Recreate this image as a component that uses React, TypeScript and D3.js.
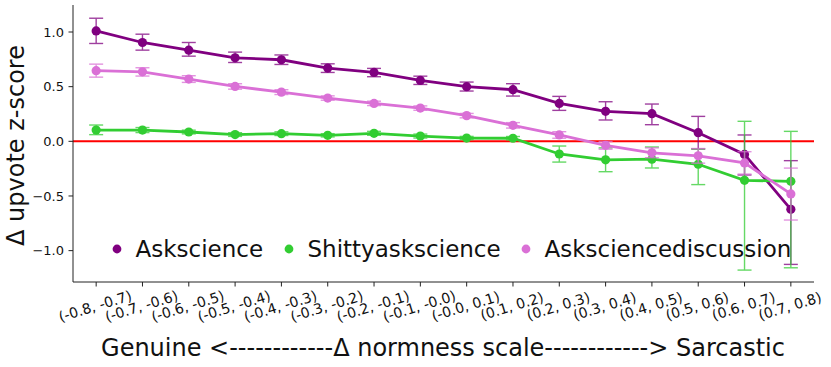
import React from 'react'
import { scaleLinear, scalePoint, line, format } from 'd3'

// bins of the normness scale
const categories = [
  '(-0.8, -0.7)', '(-0.7, -0.6)', '(-0.6, -0.5)', '(-0.5, -0.4)',
  '(-0.4, -0.3)', '(-0.3, -0.2)', '(-0.2, -0.1)', '(-0.1, -0.0)',
  '(-0.0, 0.1)', '(0.1, 0.2)', '(0.2, 0.3)', '(0.3, 0.4)',
  '(0.4, 0.5)', '(0.5, 0.6)', '(0.6, 0.7)', '(0.7, 0.8)',
]

const askscience = [1.01, 0.904, 0.834, 0.764, 0.746, 0.67, 0.63, 0.557, 0.5, 0.472, 0.347, 0.274, 0.253, 0.079, -0.12, -0.622]
const askscienceLow = [0.895, 0.834, 0.779, 0.721, 0.703, 0.63, 0.591, 0.52, 0.46, 0.414, 0.283, 0.195, 0.152, -0.07, -0.308, -1.126]
const askscienceHigh = [1.126, 0.98, 0.904, 0.816, 0.79, 0.709, 0.667, 0.596, 0.542, 0.527, 0.411, 0.362, 0.341, 0.228, 0.058, -0.177]

const shitty = [0.103, 0.103, 0.085, 0.062, 0.07, 0.055, 0.073, 0.048, 0.03, 0.028, -0.116, -0.169, -0.163, -0.21, -0.357, -0.366]
const shittyLow = [0.061, 0.08, 0.068, 0.045, 0.053, 0.04, 0.055, 0.03, 0.015, 0.012, -0.19, -0.278, -0.244, -0.396, -1.178, -1.157]
const shittyHigh = [0.149, 0.126, 0.102, 0.079, 0.087, 0.07, 0.091, 0.066, 0.045, 0.044, -0.043, -0.06, -0.052, -0.07, 0.183, 0.091]

const discussion = [0.646, 0.636, 0.569, 0.502, 0.45, 0.396, 0.347, 0.304, 0.235, 0.146, 0.058, -0.037, -0.105, -0.133, -0.198, -0.481]
const discussionLow = [0.587, 0.597, 0.539, 0.477, 0.428, 0.376, 0.327, 0.284, 0.215, 0.121, 0.028, -0.072, -0.15, -0.2, -0.3, -0.72]
const discussionHigh = [0.706, 0.673, 0.6, 0.527, 0.472, 0.416, 0.367, 0.324, 0.255, 0.171, 0.088, -0.002, -0.06, -0.066, -0.095, -0.245]

const yTicks = [-1.0, -0.5, 0.0, 0.5, 1.0]

const series = [
  { name: 'Askscience', color: '#800080', values: askscience, low: askscienceLow, high: askscienceHigh },
  { name: 'Shittyaskscience', color: '#32cd32', values: shitty, low: shittyLow, high: shittyHigh },
  { name: 'Asksciencediscussion', color: '#da70d6', values: discussion, low: discussionLow, high: discussionHigh },
]

const W = 831
const H = 367
const left = 73
const right = 814
const top = 5
const bottom = 282
const font = '"DejaVu Sans", sans-serif'

export default function App() {
  const x = scalePoint<string>().domain(categories).range([left, right]).padding(0.5)
  const y = scaleLinear().domain([-1.287, 1.247]).range([bottom, top])
  const fmt = format('.1f')

  const legendX = [117, 289, 526]

  return (
    <svg width={W} height={H} style={{ position: 'absolute', left: 0, top: 0 }} fontFamily={font}>
      <rect width={W} height={H} fill="white" />
      {/* zero line */}
      <line x1={left} x2={right} y1={y(0)} y2={y(0)} stroke="red" strokeWidth={2} />

      {series.map((s) => {
        const path = line<number>()
          .x((_, i) => x(categories[i])!)
          .y((d) => y(d))
        return (
          <g key={s.name}>
            <path d={path(s.values)!} fill="none" stroke={s.color} strokeWidth={2.8} />
            {s.values.map((v, i) => {
              const cx = x(categories[i])!
              return (
                <g key={i} stroke={s.color} strokeWidth={1.4} opacity={0.75}>
                  <line x1={cx} x2={cx} y1={y(s.low[i])} y2={y(s.high[i])} />
                  <line x1={cx - 7} x2={cx + 7} y1={y(s.low[i])} y2={y(s.low[i])} />
                  <line x1={cx - 7} x2={cx + 7} y1={y(s.high[i])} y2={y(s.high[i])} />
                </g>
              )
            })}
            {s.values.map((v, i) => (
              <circle key={i} cx={x(categories[i])!} cy={y(v)} r={4.6} fill={s.color} />
            ))}
          </g>
        )
      })}

      {/* axes */}
      <line x1={left} x2={left} y1={top} y2={bottom} stroke="#222" strokeWidth={1} />
      <line x1={left} x2={right} y1={bottom} y2={bottom} stroke="#222" strokeWidth={1} />
      {yTicks.map((t) => (
        <g key={t}>
          <line x1={left - 4.5} x2={left} y1={y(t)} y2={y(t)} stroke="#222" strokeWidth={1} />
          <text x={left - 9} y={y(t)} dy="0.36em" textAnchor="end" fontSize={13} fill="#111">
            {fmt(t)}
          </text>
        </g>
      ))}
      {categories.map((c) => (
        <g key={c}>
          <line x1={x(c)!} x2={x(c)!} y1={bottom} y2={bottom + 4.5} stroke="#222" strokeWidth={1} />
          <text
            transform={`translate(${x(c)! - 1},${306}) rotate(-17)`}
            textAnchor="middle"
            dy="0.36em"
            fontSize={14.2}
            fill="#111"
          >
            {c}
          </text>
        </g>
      ))}

      <text transform={`translate(24,${(top + bottom) / 2 + 2}) rotate(-90)`} textAnchor="middle" fontSize={24} fill="#111">
        Δ upvote z-score
      </text>
      <text x={443} y={356} textAnchor="middle" fontSize={24} fill="#111">
        Genuine {'<------------'}Δ normness scale{'------------>'} Sarcastic
      </text>

      {/* legend */}
      {series.map((s, i) => (
        <g key={s.name}>
          <circle cx={legendX[i]} cy={249} r={4.4} fill={s.color} />
          <text x={legendX[i] + 18.5} y={249} dy="0.36em" fontSize={23} fill="#111">
            {s.name}
          </text>
        </g>
      ))}
    </svg>
  )
}
